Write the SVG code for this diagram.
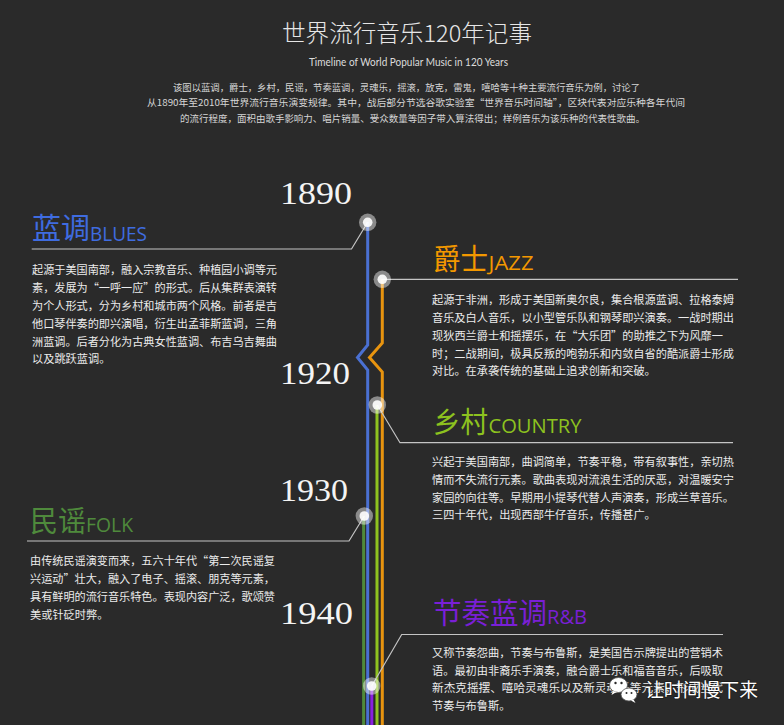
<svg xmlns="http://www.w3.org/2000/svg" width="784" height="725" viewBox="0 0 784 725">
<style>
.cjk{font-family:"Noto Sans CJK SC","Noto Sans",sans-serif}
.title{font-size:23.5px;fill:#e6e6e6;font-weight:300}
.sub{font-family:Lato,"Open Sans",sans-serif;font-size:10.5px;fill:#dcdcdc}
.intro{font-size:9.5px;fill:#d6d6d6}
.body{font-size:11.2px;fill:#ececec}
.year{font-family:"Liberation Serif",serif;font-size:32px;fill:#f4f4f4;font-variant-numeric:oldstyle-nums}
.hz{font-size:29px}
.en{font-family:"Open Sans","Liberation Sans",sans-serif;font-size:20px}
.lead{stroke:#c4c4c4;stroke-width:1.2;fill:none}
.track{stroke-width:3;fill:none;stroke-linejoin:miter}
.halo{fill:#ffffff;fill-opacity:0.45}
.dot{fill:#ffffff;fill-opacity:0.9}
.wm{font-size:19px;fill:#ffffff;stroke:#000;stroke-opacity:0.35;stroke-width:1.5;paint-order:stroke}
</style>
<rect width="784" height="725" fill="#2a2a2a"/>

<g id="header">
<text class="cjk title" x="282" y="42" textLength="250" lengthAdjust="spacingAndGlyphs">世界流行音乐120年记事</text>
<text class="sub" x="309" y="66" textLength="199" lengthAdjust="spacingAndGlyphs">Timeline of World Popular Music in 120 Years</text>
<text class="cjk intro" x="173" y="91" textLength="467" lengthAdjust="spacingAndGlyphs">该图以蓝调，爵士，乡村，民谣，节奏蓝调，灵魂乐，摇滚，放克，雷鬼，嘻哈等十种主要流行音乐为例，讨论了</text>
<text class="cjk intro" x="147" y="106" textLength="538" lengthAdjust="spacingAndGlyphs">从1890年至2010年世界流行音乐演变规律。其中，战后部分节选谷歌实验室“世界音乐时间轴”，区块代表对应乐种各年代间</text>
<text class="cjk intro" x="180" y="121.5" textLength="465" lengthAdjust="spacingAndGlyphs">的流行程度，面积由歌手影响力、唱片销量、受众数量等因子带入算法得出；样例音乐为该乐种的代表性歌曲。</text>
</g>

<g id="years">
<text class="year" x="280" y="204" textLength="72" lengthAdjust="spacingAndGlyphs">1890</text>
<text class="year" x="280" y="384" textLength="70" lengthAdjust="spacingAndGlyphs">1920</text>
<text class="year" x="280" y="501" textLength="68" lengthAdjust="spacingAndGlyphs">1930</text>
<text class="year" x="280" y="624" textLength="73" lengthAdjust="spacingAndGlyphs">1940</text>
</g>

<g id="connectors">
<polyline class="track" stroke="#4a70d2" points="367.7,222 367.7,345 357.5,357.5 367.7,370 367.7,725"/>
<polyline class="track" stroke="#e8940f" points="382.3,279 382.3,343 369.5,357.5 382.3,372 382.3,725"/>
<line class="track" stroke="#8fc31f" x1="377" y1="405" x2="377" y2="725"/>
<line class="track" stroke="#4f8a3a" x1="363.6" y1="516" x2="363.6" y2="725"/>
<line class="track" stroke="#8a1fe0" x1="371.8" y1="686" x2="371.8" y2="725"/>
<polyline class="lead" points="367.7,222.3 351.5,249 31.7,249"/>
<polyline class="lead" points="382.3,279.3 738,279.3"/>
<polyline class="lead" points="377.3,405 400,442.7 733,442.7"/>
<polyline class="lead" points="364.3,516 349,541 27,541"/>
<polyline class="lead" points="371.7,686 401.7,634.5 723,634.5"/>
</g>

<g id="blues">
<circle class="halo" cx="367.7" cy="222.3" r="8.7"/>
<circle class="dot" cx="367.7" cy="222.3" r="4.8"/>
<text class="cjk hz" x="32" y="239" fill="#3f6ce0" textLength="58" lengthAdjust="spacingAndGlyphs">蓝调</text>
<text class="en" x="90" y="241" fill="#3f6ce0" textLength="57" lengthAdjust="spacingAndGlyphs">BLUES</text>
<text class="cjk body" x="32" y="273.5" textLength="245" lengthAdjust="spacingAndGlyphs">起源于美国南部，融入宗教音乐、种植园小调等元</text>
<text class="cjk body" x="32" y="291.5" textLength="245" lengthAdjust="spacingAndGlyphs">素，发展为“一呼一应”的形式。后从集群表演转</text>
<text class="cjk body" x="32" y="309.5" textLength="245" lengthAdjust="spacingAndGlyphs">为个人形式，分为乡村和城市两个风格。前者是吉</text>
<text class="cjk body" x="32" y="327.5" textLength="245" lengthAdjust="spacingAndGlyphs">他口琴伴奏的即兴演唱，衍生出孟菲斯蓝调，三角</text>
<text class="cjk body" x="32" y="345.5" textLength="245" lengthAdjust="spacingAndGlyphs">洲蓝调。后者分化为古典女性蓝调、布吉乌吉舞曲</text>
<text class="cjk body" x="32" y="363">以及跳跃蓝调。</text>
</g>

<g id="jazz">
<circle class="halo" cx="382.3" cy="279.3" r="8.7"/>
<circle class="dot" cx="382.3" cy="279.3" r="4.8"/>
<text class="cjk hz" x="433" y="270" fill="#f39800" font-size="28" textLength="55" lengthAdjust="spacingAndGlyphs">爵士</text>
<text class="en" x="488.5" y="269.5" fill="#f39800" textLength="45" lengthAdjust="spacingAndGlyphs">JAZZ</text>
<text class="cjk body" x="432" y="304" textLength="302" lengthAdjust="spacingAndGlyphs">起源于非洲，形成于美国新奥尔良，集合根源蓝调、拉格泰姆</text>
<text class="cjk body" x="432" y="322" textLength="302" lengthAdjust="spacingAndGlyphs">音乐及白人音乐，以小型管乐队和钢琴即兴演奏。一战时期出</text>
<text class="cjk body" x="432" y="339.5" textLength="291" lengthAdjust="spacingAndGlyphs">现狄西兰爵士和摇摆乐，在“大乐团”的助推之下为风靡一</text>
<text class="cjk body" x="432" y="357.5" textLength="302" lengthAdjust="spacingAndGlyphs">时；二战期间，极具反叛的咆勃乐和内敛自省的酷派爵士形成</text>
<text class="cjk body" x="432" y="375">对比。在承袭传统的基础上追求创新和突破。</text>
</g>

<g id="country">
<circle class="halo" cx="377.3" cy="405" r="8.7"/>
<circle class="dot" cx="377.3" cy="405" r="4.8"/>
<text class="cjk hz" x="433" y="432.5" fill="#8dc21f" font-size="28" textLength="55" lengthAdjust="spacingAndGlyphs">乡村</text>
<text class="en" x="488.5" y="433" fill="#8dc21f" textLength="93" lengthAdjust="spacingAndGlyphs">COUNTRY</text>
<text class="cjk body" x="432" y="465.5" textLength="302" lengthAdjust="spacingAndGlyphs">兴起于美国南部，曲调简单，节奏平稳，带有叙事性，亲切热</text>
<text class="cjk body" x="432" y="483.5" textLength="302" lengthAdjust="spacingAndGlyphs">情而不失流行元素。歌曲表现对流浪生活的厌恶，对温暖安宁</text>
<text class="cjk body" x="432" y="501.5" textLength="302" lengthAdjust="spacingAndGlyphs">家园的向往等。早期用小提琴代替人声演奏，形成兰草音乐。</text>
<text class="cjk body" x="432" y="519">三四十年代，出现西部牛仔音乐，传播甚广。</text>
</g>

<g id="folk">
<circle class="halo" cx="364.3" cy="516" r="8.7"/>
<circle class="dot" cx="364.3" cy="516" r="4.8"/>
<text class="cjk hz" x="30" y="531.5" fill="#4f8a3c" font-size="28" textLength="56" lengthAdjust="spacingAndGlyphs">民谣</text>
<text class="en" x="86" y="531.7" fill="#4f8a3c" textLength="47" lengthAdjust="spacingAndGlyphs">FOLK</text>
<text class="cjk body" x="30" y="564.5" textLength="245" lengthAdjust="spacingAndGlyphs">由传统民谣演变而来，五六十年代“第二次民谣复</text>
<text class="cjk body" x="30" y="582.5" textLength="245" lengthAdjust="spacingAndGlyphs">兴运动”壮大，融入了电子、摇滚、朋克等元素，</text>
<text class="cjk body" x="30" y="600.5" textLength="245" lengthAdjust="spacingAndGlyphs">具有鲜明的流行音乐特色。表现内容广泛，歌颂赞</text>
<text class="cjk body" x="30" y="618.5">美或针砭时弊。</text>
</g>

<g id="rnb">
<circle class="halo" cx="371.7" cy="686" r="8.7"/>
<circle class="dot" cx="371.7" cy="686" r="4.8"/>
<text class="cjk hz" x="433" y="624" fill="#7a1fd6" font-size="28.5" textLength="114" lengthAdjust="spacingAndGlyphs">节奏蓝调</text>
<text class="en" x="547" y="624" fill="#7a1fd6" font-size="16.5" textLength="40" lengthAdjust="spacingAndGlyphs">R&amp;B</text>
<text class="cjk body" x="432" y="657" textLength="291" lengthAdjust="spacingAndGlyphs">又称节奏怨曲，节奏与布鲁斯，是美国告示牌提出的营销术</text>
<text class="cjk body" x="432" y="674.5" textLength="291" lengthAdjust="spacingAndGlyphs">语。最初由非裔乐手演奏，融合爵士乐和福音音乐，后吸取</text>
<text class="cjk body" x="432" y="692" textLength="291" lengthAdjust="spacingAndGlyphs">新杰克摇摆、嘻哈灵魂乐以及新灵魂乐等元素，形成当代</text>
<text class="cjk body" x="432" y="710">节奏与布鲁斯。</text>
</g>

<g id="watermark">
<ellipse cx="618.5" cy="685" rx="9" ry="7.5" fill="#ffffff" stroke="#555" stroke-width="0.8"/>
<path d="M613,691 L611.5,695 L616.5,692 Z" fill="#ffffff"/>
<circle cx="615.5" cy="683" r="1.2" fill="#2a2a2a"/>
<circle cx="621.5" cy="683" r="1.2" fill="#2a2a2a"/>
<ellipse cx="629" cy="694.5" rx="8" ry="6.5" fill="#ffffff" stroke="#555" stroke-width="0.8"/>
<path d="M633.5,699.5 L635.5,703 L631,700.5 Z" fill="#ffffff"/>
<circle cx="626.5" cy="693" r="1" fill="#2a2a2a"/>
<circle cx="631.5" cy="693" r="1" fill="#2a2a2a"/>
<text class="cjk wm" x="645" y="697" textLength="113" lengthAdjust="spacingAndGlyphs">让时间慢下来</text>
</g>
</svg>
